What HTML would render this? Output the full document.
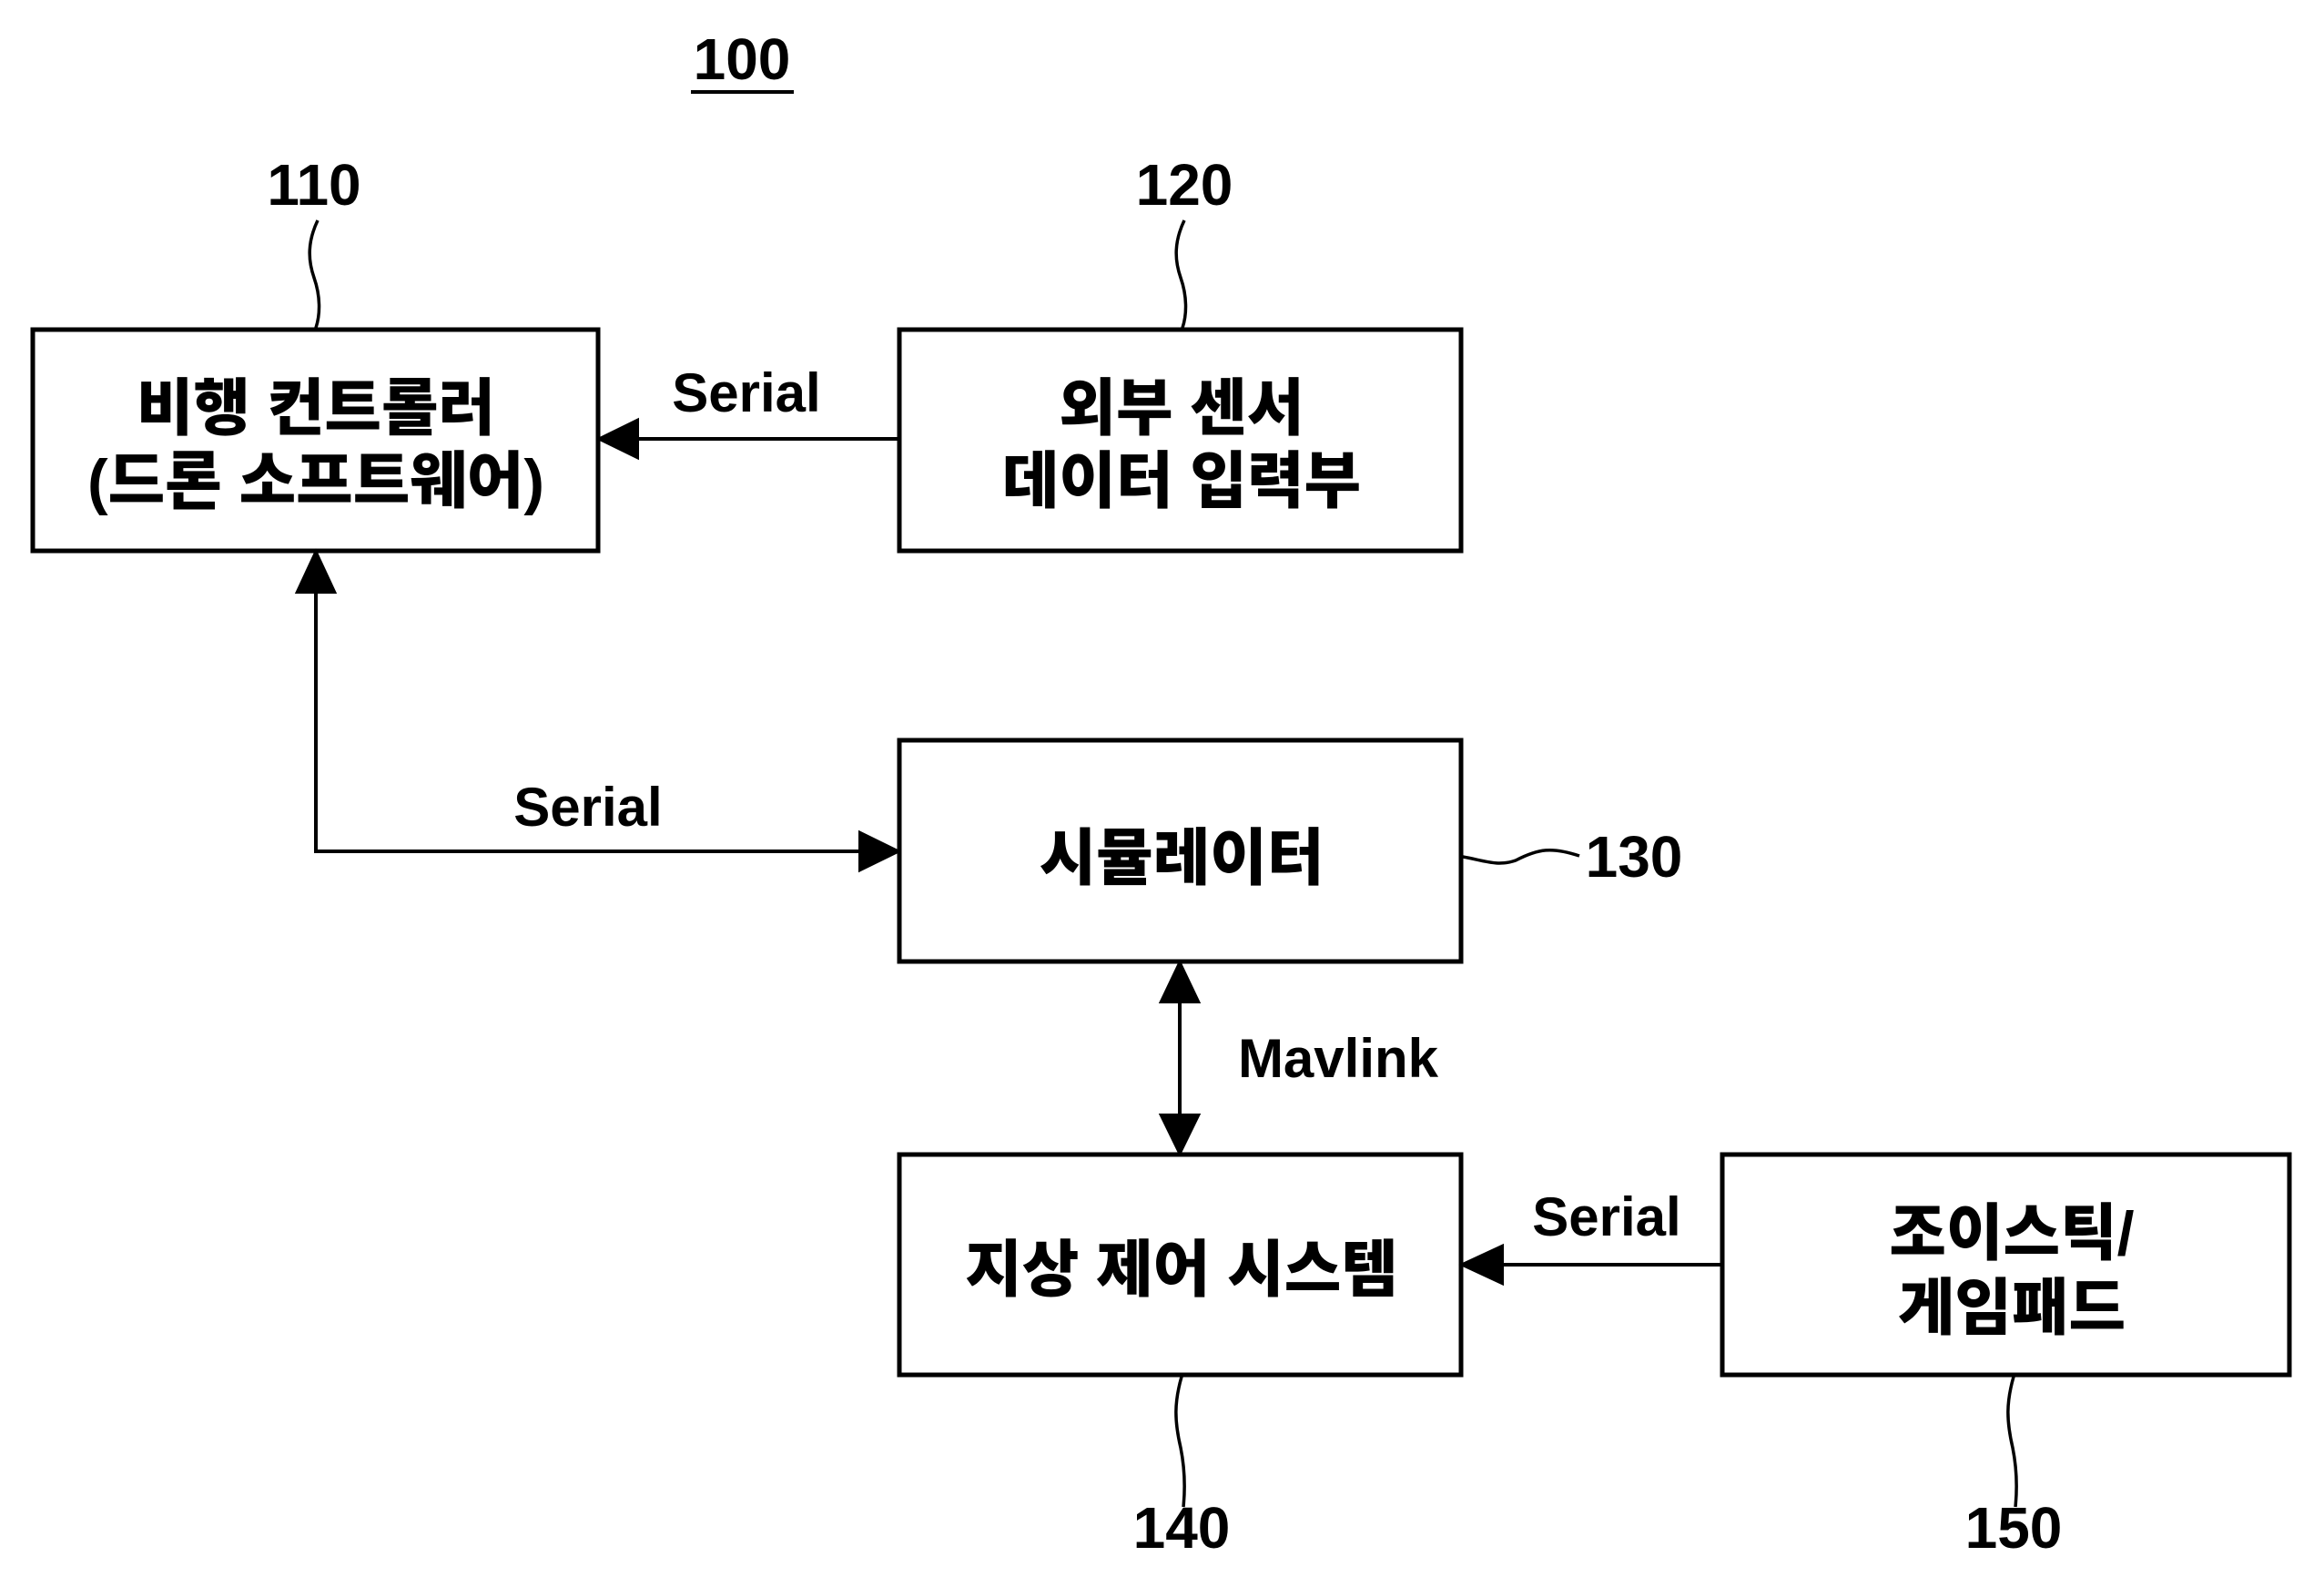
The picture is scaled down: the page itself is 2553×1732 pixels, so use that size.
<!DOCTYPE html>
<html><head><meta charset="utf-8"><style>
html,body{margin:0;padding:0;background:#fff;}
svg{display:block;}
text{font-family:"Liberation Sans Narrow","Liberation Sans","Noto Sans CJK KR",sans-serif;font-weight:bold;fill:#000;}
.k{font-family:"Liberation Sans","Noto Sans CJK KR",sans-serif;font-size:68px;font-weight:900;}
.n{font-size:64px;}
.s{font-size:60px;}
</style></head><body>
<svg width="2553" height="1732" viewBox="0 0 2553 1732" xmlns="http://www.w3.org/2000/svg">
<g fill="none" stroke="#000" stroke-width="5">
<rect x="36" y="362" width="621" height="243"/>
<rect x="988" y="362" width="617" height="243"/>
<rect x="988" y="813" width="617" height="243"/>
<rect x="988" y="1268" width="617" height="242"/>
<rect x="1892" y="1268" width="623" height="242"/>
</g>
<g stroke="#000" stroke-width="4" fill="#000">
<line x1="988" y1="482" x2="700" y2="482"/>
<path d="M659,482 L700,462 L700,502 z"/>
<polyline points="347,650 347,935 945,935" fill="none"/>
<path d="M347,607 L327,650 L367,650 z"/>
<path d="M986,935 L945,915 L945,955 z"/>
<line x1="1296" y1="1100" x2="1296" y2="1225"/>
<path d="M1296,1058 L1276,1100 L1316,1100 z"/>
<path d="M1296,1266 L1276,1225 L1316,1225 z"/>
<line x1="1892" y1="1389" x2="1650" y2="1389"/>
<path d="M1607,1389 L1650,1369 L1650,1409 z"/>
</g>
<g fill="none" stroke="#000" stroke-width="3.5">
<path d="M349,242 C338,265 338,285 345,305 C352,325 352,345 347,360"/>
<path d="M1301,242 C1290,265 1290,285 1297,305 C1304,325 1304,345 1299,360"/>
<path d="M1607,941 C1630,945 1645,952 1665,945 C1690,932 1705,930 1735,940"/>
<path d="M1298,1512 C1290,1540 1290,1560 1297,1590 C1302,1615 1302,1635 1300,1655"/>
<path d="M2212,1512 C2204,1540 2204,1560 2211,1590 C2216,1615 2216,1635 2214,1655"/>
</g>
<line x1="759" y1="101" x2="872" y2="101" stroke="#000" stroke-width="4"/>
<text class="n" x="815" y="87" text-anchor="middle">100</text>
<text class="n" x="345" y="225" text-anchor="middle">110</text>
<text class="n" x="1301" y="225" text-anchor="middle">120</text>
<text class="n" x="1795" y="963" text-anchor="middle">130</text>
<text class="n" x="1298" y="1700" text-anchor="middle">140</text>
<text class="n" x="2212" y="1700" text-anchor="middle">150</text>
<text class="s" x="820" y="452" text-anchor="middle">Serial</text>
<text class="s" x="646" y="907" text-anchor="middle">Serial</text>
<text class="s" x="1470" y="1183" text-anchor="middle">Mavlink</text>
<text class="s" x="1765" y="1357" text-anchor="middle">Serial</text>
<text class="k" x="347" y="472" text-anchor="middle">비행 컨트롤러</text>
<text class="k" x="347" y="552" text-anchor="middle">(드론 소프트웨어)</text>
<text class="k" x="1298" y="472" text-anchor="middle">외부 센서</text>
<text class="k" x="1298" y="552" text-anchor="middle">데이터 입력부</text>
<text class="k" x="1298" y="966" text-anchor="middle">시뮬레이터</text>
<text class="k" x="1298" y="1418" text-anchor="middle">지상 제어 시스템</text>
<text class="k" x="2210" y="1378" text-anchor="middle">조이스틱/</text>
<text class="k" x="2210" y="1460" text-anchor="middle">게임패드</text>
</svg>
</body></html>
